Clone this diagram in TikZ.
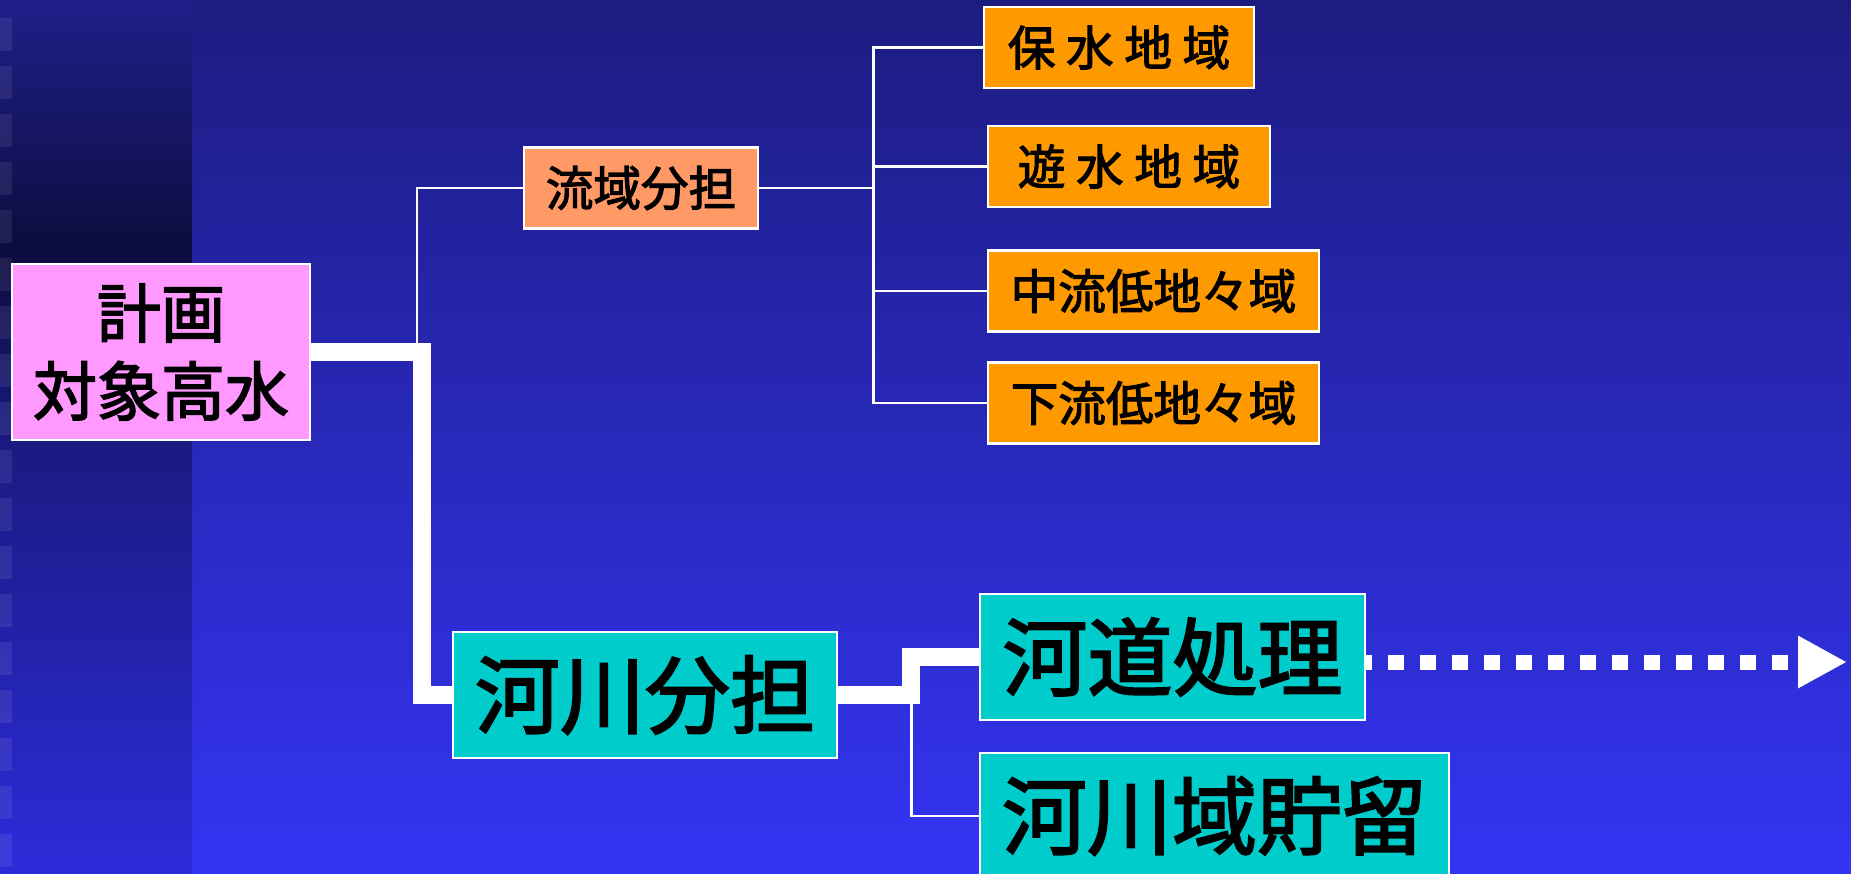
\documentclass[tikz,border=0pt]{standalone}
\usepackage{fontspec}
\newfontfamily\jp[FakeBold=2.4]{Noto Sans CJK JP}
\usetikzlibrary{arrows.meta}
\definecolor{bgtop}{HTML}{1C1C80}
\definecolor{bgbot}{HTML}{3434F4}
\definecolor{striptop}{HTML}{1F1F8A}
\definecolor{stripdark}{HTML}{0C0C3E}
\definecolor{stripmid}{HTML}{1A1A82}
\definecolor{stripbot}{HTML}{2C2CDA}
\definecolor{pinkbox}{HTML}{FF99FF}
\definecolor{salmonbox}{HTML}{FF9966}
\definecolor{orangebox}{HTML}{FF9900}
\definecolor{tealbox}{HTML}{00CCCC}

\begin{document}
\begin{tikzpicture}[x=0.5pt,y=0.5pt,yscale=-1,xscale=1,
  box/.style={draw=white,line width=1.4pt,inner sep=0pt,text=black,font=\jp},
  smallbox/.style={box,font=\jp\fontsize{23.8}{28}\selectfont,minimum height=40.5pt},
  bigbox/.style={box,fill=tealbox,font=\jp\fontsize{42.5}{50}\selectfont,minimum height=63pt},
  thickln/.style={white,line width=9pt},
  thinln/.style={white,line width=1.3pt}]
\useasboundingbox (0,0) rectangle (1851,873);
%Shape: Background
\shade[top color=bgtop,bottom color=bgbot] (0,0) rectangle (1851,873);
%Shape: Left strip
\shade[top color=striptop,bottom color=stripdark] (0,0) rectangle (192,250);
\shade[top color=stripdark,bottom color=stripmid] (0,250) rectangle (192,445);
\shade[top color=stripmid,bottom color=stripbot] (0,445) rectangle (192,873);
\foreach \k in {0,...,17}
  \fill[white,opacity=0.08] (0,18+48*\k) rectangle (12,51+48*\k);
%Shape: Rectangle
\node (plan) at (161,352) [box,fill=pinkbox,minimum width=149pt,minimum height=88pt,
  align=center,font=\jp\fontsize{32}{39}\selectfont] {計画\\対象高水};
\node (ryuiki) at (641,188) [smallbox,fill=salmonbox,minimum width=117pt] {流域分担};
\node (hosui) at (1119,47.5) [smallbox,fill=orangebox,minimum width=135pt] {保 水 地 域};
\node (yusui) at (1129,166.5) [smallbox,fill=orangebox,minimum width=141pt] {遊 水 地 域};
\node (chuu) at (1153.5,291) [smallbox,fill=orangebox,minimum width=165.5pt] {中流低地々域};
\node (karyu) at (1153.5,403) [smallbox,fill=orangebox,minimum width=165.5pt] {下流低地々域};
\node (kasen) at (645,695) [bigbox,minimum width=192pt] {河川分担};
\node (kadou) at (1172.5,657) [bigbox,minimum width=192.5pt] {河道処理};
\node (chozou) at (1214.5,816) [bigbox,minimum width=234.5pt] {河川域貯留};
\coordinate (tip) at (1847,662);
%Straight Lines
\draw[thinln] (417,352) coordinate (j1) |- (ryuiki.west);
\draw[thickln] (plan.east) -- ++(111,0) |- (kasen.west);
\draw[thinln] (ryuiki.east) -- ++(114,0) coordinate (br);
\foreach \n in {hosui,yusui,chuu,karyu}
  \draw[thinln] (br) |- (\n.west);
\draw[thinln] (kasen.east) ++(73,0) coordinate (j2) |- (chozou.west);
\draw[thickln] (kasen.east) -- (j2) |- (kadou.west);
%Dotted arrow
\draw[white,line width=7.5pt,dash pattern=on 8pt off 8pt,dash phase=5pt,
  -{Triangle[length=24.5pt,width=24.5pt]}] (kadou.east |- tip) -- (tip);
\end{tikzpicture}
\end{document}
